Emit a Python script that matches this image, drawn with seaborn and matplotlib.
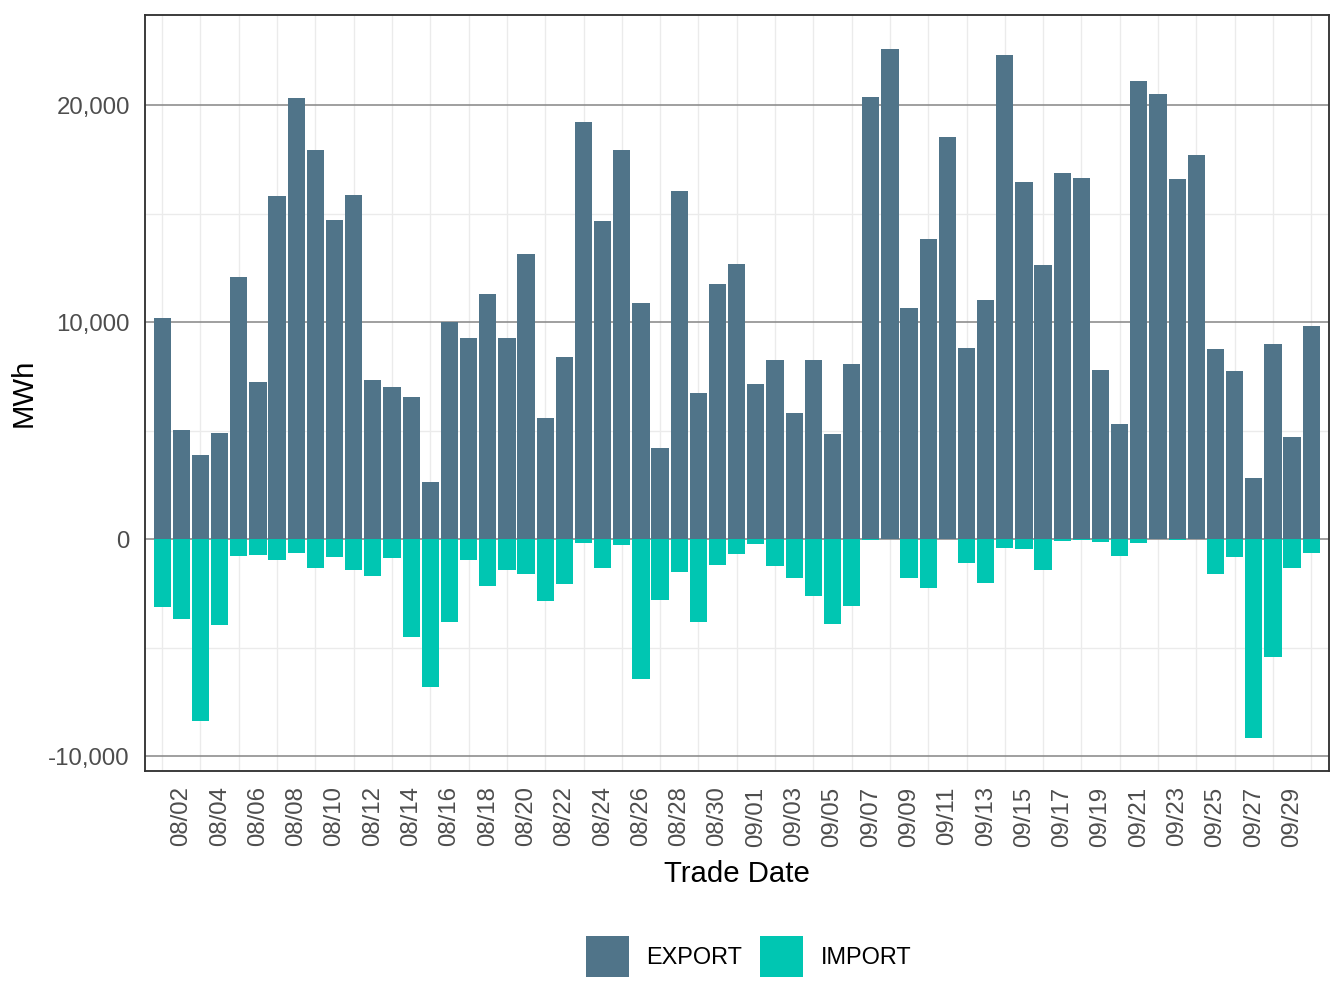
import pandas as pd
import matplotlib.pyplot as plt
import seaborn as sns
from matplotlib.patches import Patch
from matplotlib.ticker import FuncFormatter, FixedLocator

# daily values, 08/01 .. 09/30 (MWh)
dates = pd.date_range("2024-08-01", periods=61).strftime("%m/%d").tolist()

export_mwh = [
    10200, 5040, 3870, 4890, 12080, 7240, 15810, 20340, 17930, 14710,
    15850, 7340, 7010, 6560, 2620, 10010, 9270, 11300, 9270, 13140,
    5590, 8400, 19220, 14670, 17930, 10880, 4190, 16040, 6730, 11770,
    12680, 7150, 8250, 5820, 8250, 4850, 8060, 20380, 22580, 10650,
    13840, 18540, 8800, 11030, 22310, 16470, 12630, 16870, 16630, 7790,
    5310, 21120, 20510, 16590, 17710, 8760, 7750, 2810, 8990, 4700,
    9820,
]
import_mwh = [
    -3130, -3680, -8380, -3960, -780, -740, -950, -630, -1330, -830,
    -1420, -1690, -870, -4510, -6810, -3810, -950, -2160, -1420, -1610,
    -2860, -2070, -170, -1330, -280, -6460, -2810, -1520, -3810, -1190,
    -680, -230, -1250, -1800, -2620, -3920, -3090, -40, 0, -1800,
    -2240, 0, -1100, -2030, -400, -440, -1420, -80, -20, -130,
    -780, -170, 0, -40, 0, -1610, -830, -9160, -5440, -1330,
    -630,
]

colors = {"EXPORT": "#507489", "IMPORT": "#00C6B2"}

df = pd.DataFrame({"date": dates, "EXPORT": export_mwh, "IMPORT": import_mwh})

sns.set_style("white")
plt.rcParams["font.family"] = ["Liberation Sans", "DejaVu Sans"]

fig, ax = plt.subplots(figsize=(7, 5.25), dpi=192)
fig.subplots_adjust(left=0.108, right=0.989, top=0.985, bottom=0.235)

for k in ["EXPORT", "IMPORT"]:
    sns.barplot(data=df, x="date", y=k, order=dates, color=colors[k],
                width=0.9, saturation=1, errorbar=None, linewidth=0,
                ax=ax, zorder=3)

ax.set_xlim(-0.89, 60.94)
ax.set_ylim(-10690, 24150)

# ticks every other day, light grid on the days in between
ax.xaxis.set_major_locator(FixedLocator(range(1, 61, 2)))
ax.set_xticklabels([dates[i] for i in range(1, 61, 2)], rotation=90)
ax.xaxis.set_minor_locator(FixedLocator(range(0, 61, 2)))
ax.yaxis.set_major_locator(FixedLocator([-10000, 0, 10000, 20000]))
ax.yaxis.set_minor_locator(FixedLocator([-5000, 5000, 15000]))
ax.yaxis.set_major_formatter(FuncFormatter(lambda v, p: f"{v:,.0f}"))

ax.grid(False)
ax.grid(axis="y", which="major", color="#8a8a8a", linewidth=0.6, zorder=1)
ax.grid(axis="y", which="minor", color="#ebebeb", linewidth=0.5, zorder=1)
ax.grid(axis="x", which="minor", color="#ebebeb", linewidth=0.5, zorder=1)
ax.set_axisbelow(True)

ax.tick_params(axis="both", which="major", length=2.75, width=0.6,
               color="#333333", labelsize=9.0, labelcolor="#4d4d4d", pad=3)
ax.tick_params(axis="both", which="minor", length=0)

for s in ax.spines.values():
    s.set_color("#333333")
    s.set_linewidth(0.7)

ax.set_xlabel("Trade Date", fontsize=11, color="black", labelpad=5)
ax.set_ylabel("MWh", fontsize=11, color="black", labelpad=4)

handles = [Patch(facecolor=colors[k], edgecolor="none", label=k) for k in colors]
fig.legend(handles=handles, loc="center", bbox_to_anchor=(0.557, 0.051),
           ncol=2, frameon=False, fontsize=8.8, handlelength=1.85,
           handleheight=2.3, handletextpad=0.75, columnspacing=0.75,
           labelcolor="black")

fig.savefig("out.png", dpi=192)
